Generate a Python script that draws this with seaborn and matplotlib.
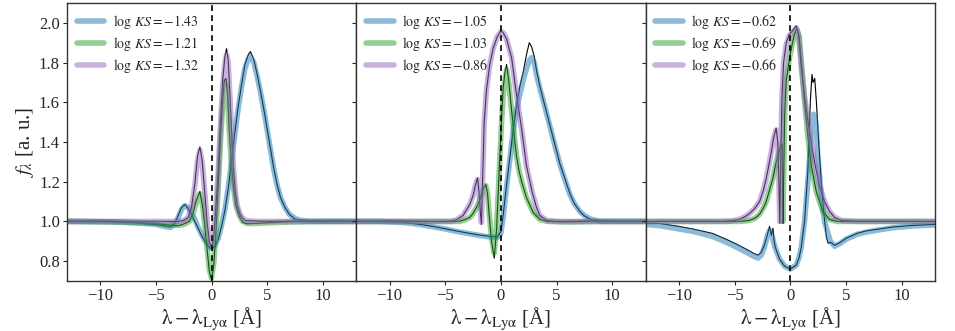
import numpy as np
import pandas as pd
import matplotlib
matplotlib.use("Agg")
import matplotlib.pyplot as plt
import seaborn as sns

# ---- panel 1 ----
x_b1 = [-13, -11, -9, -7, -6, -5, -4.2, -3.7, -3.3, -3.0, -2.7, -2.4, -2.1, -1.8, -1.5, -1.2, -0.9, -0.6, -0.3, 0.0,
        0.3, 0.6, 0.9, 1.2, 1.5, 1.8, 2.1, 2.4, 2.7, 3.0, 3.3, 3.5, 3.8, 4.1, 4.4, 4.7, 5.0, 5.3, 5.6, 5.9,
        6.2, 6.6, 7.0, 7.5, 8.0, 9, 10, 11.5, 13]
mod_b1 = [1.0, 1.0, 0.998, 0.993, 0.99, 0.985, 0.975, 0.97, 0.985, 1.02, 1.06, 1.08, 1.07, 1.04, 1.01, 0.97, 0.935, 0.905, 0.88, 0.866,
          0.88, 0.915, 0.98, 1.06, 1.17, 1.30, 1.44, 1.57, 1.68, 1.77, 1.82, 1.83, 1.80, 1.73, 1.65, 1.56, 1.46, 1.36, 1.26, 1.18,
          1.12, 1.07, 1.035, 1.015, 1.005, 1.0, 1.0, 1.0, 1.0]
obs_b1 = [1.002, 0.998, 1.0, 0.995, 0.988, 0.984, 0.977, 0.972, 0.99, 1.03, 1.07, 1.085, 1.065, 1.035, 1.0, 0.965, 0.93, 0.9, 0.875, 0.862,
          0.875, 0.91, 0.975, 1.055, 1.165, 1.31, 1.45, 1.58, 1.69, 1.79, 1.84, 1.855, 1.815, 1.74, 1.655, 1.565, 1.465, 1.365, 1.265, 1.185,
          1.12, 1.07, 1.035, 1.012, 1.008, 1.002, 0.998, 1.003, 1.0]

x_g1 = [-13, -10, -8, -6, -5, -4, -3, -2.5, -2.0, -1.7, -1.4, -1.05, -0.8, -0.6, -0.4, -0.2, 0.0, 0.2, 0.4, 0.6,
        0.8, 1.0, 1.15, 1.3, 1.45, 1.6, 1.8, 2.0, 2.2, 2.5, 2.8, 3.2, 4.0, 6.0, 8.0, 10.0, 13]
mod_g1 = [1.0, 0.998, 0.997, 0.993, 0.99, 0.985, 0.98, 0.985, 1.0, 1.03, 1.09, 1.14, 1.08, 0.98, 0.87, 0.76, 0.715, 0.79, 0.95, 1.17,
          1.40, 1.58, 1.67, 1.69, 1.62, 1.45, 1.28, 1.16, 1.08, 1.03, 1.0, 0.99, 0.99, 0.995, 0.998, 1.0, 1.0]
obs_g1 = [1.0, 1.0, 0.995, 0.992, 0.99, 0.983, 0.978, 0.987, 1.0, 1.035, 1.1, 1.15, 1.075, 0.975, 0.86, 0.75, 0.705, 0.78, 0.95, 1.18,
          1.42, 1.61, 1.71, 1.72, 1.63, 1.45, 1.28, 1.155, 1.075, 1.025, 0.995, 0.988, 0.99, 0.997, 1.0, 1.002, 1.0]

x_p1 = [-13, -10, -7, -5, -3, -2.5, -2.1, -1.8, -1.5, -1.25, -1.05, -0.85, -0.6, -0.4, -0.2, 0.0, 0.2, 0.4, 0.6, 0.8,
        1.0, 1.2, 1.35, 1.5, 1.7, 1.9, 2.1, 2.3, 2.6, 3.0, 4.0, 6.0, 9.0, 13]
mod_p1 = [1.0, 1.0, 1.0, 1.0, 1.0, 1.005, 1.02, 1.07, 1.18, 1.31, 1.36, 1.30, 1.14, 1.00, 0.91, 0.88, 0.93, 1.08, 1.25, 1.48,
          1.68, 1.80, 1.84, 1.80, 1.58, 1.33, 1.17, 1.08, 1.03, 1.005, 1.0, 1.0, 1.0, 1.0]
obs_p1 = [1.0, 1.003, 0.999, 1.001, 1.0, 1.005, 1.02, 1.07, 1.19, 1.33, 1.375, 1.31, 1.14, 0.995, 0.9, 0.87, 0.92, 1.08, 1.26, 1.5,
          1.71, 1.83, 1.87, 1.81, 1.58, 1.33, 1.17, 1.08, 1.03, 1.005, 1.002, 1.0, 1.003, 1.0]

# ---- panel 2 ----
x_b2 = [-13, -11, -9, -8, -7, -6, -5, -4, -3, -2, -1, -0.3, 0.0, 0.2, 0.5, 0.8, 1.1, 1.4, 1.7, 2.0,
        2.3, 2.55, 2.76, 3.0, 3.2, 3.5, 3.8, 4.1, 4.4, 4.7, 5.0, 5.3, 5.6, 5.9, 6.2, 6.6, 7.1, 7.5, 8.0, 8.9,
        10, 13]
mod_b2 = [1.0, 1.0, 0.995, 0.99, 0.982, 0.972, 0.962, 0.95, 0.94, 0.93, 0.922, 0.92, 0.94, 1.02, 1.17, 1.31, 1.45, 1.56, 1.64, 1.71,
          1.77, 1.81, 1.825, 1.80, 1.74, 1.67, 1.61, 1.545, 1.48, 1.415, 1.35, 1.29, 1.235, 1.185, 1.136, 1.09, 1.05, 1.03, 1.013, 1.0,
          1.0, 1.0]
obs_b2 = [1.002, 0.999, 0.997, 0.99, 0.983, 0.974, 0.963, 0.952, 0.942, 0.932, 0.925, 0.922, 0.95, 1.03, 1.18, 1.32, 1.46, 1.58, 1.68, 1.75,
          1.84, 1.90, 1.88, 1.83, 1.76, 1.68, 1.615, 1.55, 1.485, 1.42, 1.355, 1.29, 1.24, 1.19, 1.14, 1.09, 1.05, 1.028, 1.012, 1.002,
          1.0, 1.001]

x_g2 = [-13, -9, -6, -4.5, -3.7, -3.2, -2.8, -2.5, -2.2, -1.95, -1.75, -1.55, -1.35, -1.2, -1.05, -0.84, -0.6, -0.39, -0.15, 0.06,
        0.2, 0.36, 0.51, 0.7, 0.96, 1.2, 1.4, 1.65, 1.86, 2.3, 2.9, 3.5, 4.2, 6, 9, 13]
mod_g2 = [1.0, 1.0, 1.0, 1.0, 1.0, 1.008, 1.02, 1.04, 1.07, 1.10, 1.135, 1.165, 1.18, 1.14, 1.04, 0.92, 0.84, 0.97, 1.25, 1.50,
          1.63, 1.71, 1.765, 1.70, 1.56, 1.43, 1.33, 1.25, 1.20, 1.12, 1.045, 1.01, 1.0, 0.997, 1.0, 1.0]
obs_g2 = [1.0, 1.002, 0.999, 1.0, 1.001, 1.01, 1.02, 1.04, 1.07, 1.10, 1.135, 1.17, 1.185, 1.14, 1.03, 0.9, 0.815, 0.96, 1.26, 1.52,
          1.67, 1.75, 1.79, 1.71, 1.56, 1.43, 1.33, 1.25, 1.2, 1.12, 1.045, 1.01, 1.0, 0.998, 1.001, 1.0]

x_p2 = [-13, -9, -6, -4.5, -4.0, -3.4, -2.8, -2.5, -2.3, -2.1, -1.95, -1.85, -1.75, -1.65, -1.5, -1.3, -1.0, -0.7, -0.33, 0.0,
        0.2, 0.5, 0.96, 1.4, 1.9, 2.3, 2.8, 3.2, 3.5, 4.1, 5, 8, 13]
mod_p2 = [1.0, 1.0, 1.0, 1.0, 1.008, 1.03, 1.085, 1.13, 1.18, 1.21, 1.14, 1.06, 0.995, 1.2, 1.50, 1.66, 1.79, 1.87, 1.93, 1.955,
          1.95, 1.92, 1.825, 1.64, 1.45, 1.28, 1.15, 1.07, 1.03, 1.005, 1.0, 1.0, 1.0]
obs_p2 = [1.0, 1.002, 1.0, 1.001, 1.008, 1.03, 1.085, 1.13, 1.18, 1.22, 1.14, 1.05, 0.985, 1.2, 1.5, 1.66, 1.79, 1.87, 1.93, 1.96,
          1.95, 1.92, 1.825, 1.64, 1.45, 1.28, 1.15, 1.07, 1.03, 1.005, 1.0, 1.002, 1.0]

# ---- panel 3 ----
x_b3 = [-13, -11.75, -10, -8.75, -7, -5.75, -4.8, -3.95, -3.3, -2.9, -2.6, -2.3, -2.05, -1.86, -1.65, -1.4, -0.96, -0.51, 0.0, 0.54,
        0.8, 0.99, 1.28, 1.58, 1.89, 2.1, 2.3, 2.48, 2.78, 3.08, 3.38, 3.6, 4.0, 4.5, 5.0, 6.0, 6.8, 8.0, 9.2, 11,
        13]
mod_b3 = [0.985, 0.979, 0.962, 0.95, 0.925, 0.895, 0.87, 0.845, 0.825, 0.815, 0.83, 0.875, 0.93, 0.955, 0.93, 0.875, 0.81, 0.775, 0.76, 0.78,
          0.82, 0.87, 1.0, 1.2, 1.45, 1.54, 1.5, 1.33, 1.135, 1.0, 0.94, 0.9, 0.875, 0.89, 0.91, 0.935, 0.946, 0.958, 0.968, 0.977,
          0.982]
x_ob3 = [-13, -11.75, -10, -8.75, -7, -5.75, -4.8, -3.95, -3.3, -2.9, -2.6, -2.3, -2.05, -1.86, -1.7, -1.55, -1.45, -1.35, -0.96, -0.51,
         0.0, 0.54, 0.8, 0.99, 1.28, 1.58, 1.8, 1.95, 2.05, 2.2, 2.35, 2.55, 2.78, 3.0, 3.25, 3.4, 3.6, 4.0, 4.5, 5.0,
         6.0, 6.8, 8.0, 9.2, 11, 13]
obs_b3 = [0.99, 0.99, 0.975, 0.962, 0.94, 0.91, 0.885, 0.86, 0.84, 0.83, 0.845, 0.885, 0.935, 0.975, 0.93, 0.965, 0.9, 0.87, 0.81, 0.775,
          0.76, 0.78, 0.82, 0.87, 1.0, 1.25, 1.6, 1.74, 1.70, 1.72, 1.6, 1.4, 1.2, 1.05, 0.92, 0.89, 0.895, 0.88, 0.895, 0.915,
          0.94, 0.952, 0.962, 0.972, 0.98, 0.985]

x_g3 = [-13, -9, -6, -4.5, -3.7, -3.2, -2.76, -2.4, -2.16, -1.85, -1.56, -1.3, -1.11, -0.9, -0.72, -0.66, -0.6, -0.5, -0.36, -0.06,
        0.2, 0.39, 0.6, 0.8, 0.99, 1.28, 1.58, 1.89, 2.34, 2.93, 3.53, 4.2, 6, 9, 13]
mod_g3 = [1.0, 1.0, 1.0, 1.0, 1.005, 1.015, 1.036, 1.07, 1.10, 1.16, 1.217, 1.29, 1.33, 1.37, 1.39, 1.0, 1.2, 1.55, 1.71, 1.825,
          1.90, 1.94, 1.965, 1.93, 1.81, 1.61, 1.43, 1.28, 1.15, 1.05, 1.01, 1.0, 1.0, 1.0, 1.0]
obs_g3 = [1.0, 1.001, 1.0, 1.0, 1.005, 1.015, 1.036, 1.07, 1.10, 1.16, 1.217, 1.29, 1.33, 1.37, 1.39, 0.99, 1.2, 1.55, 1.71, 1.825,
          1.9, 1.945, 1.97, 1.93, 1.81, 1.61, 1.43, 1.28, 1.15, 1.05, 1.01, 1.0, 1.001, 1.0, 1.0]

x_p3 = [-13, -9, -6, -5.2, -4.5, -3.95, -3.66, -3.2, -2.76, -2.4, -2.16, -1.9, -1.7, -1.5, -1.27, -1.12, -1.02, -0.94, -0.86, -0.75,
        -0.6, -0.36, -0.1, 0.2, 0.54, 0.75, 0.99, 1.28, 1.73, 2.18, 2.63, 3.08, 3.53, 4.0, 4.6, 6, 9, 13]
mod_p3 = [1.0, 1.0, 1.0, 1.003, 1.012, 1.028, 1.04, 1.065, 1.10, 1.16, 1.217, 1.29, 1.35, 1.42, 1.46, 1.40, 1.2, 1.0, 1.3, 1.62,
          1.80, 1.89, 1.935, 1.955, 1.975, 1.94, 1.775, 1.63, 1.45, 1.30, 1.18, 1.10, 1.05, 1.02, 1.005, 1.0, 1.0, 1.0]
obs_p3 = [1.0, 1.001, 1.0, 1.003, 1.012, 1.028, 1.04, 1.065, 1.10, 1.16, 1.217, 1.29, 1.35, 1.42, 1.47, 1.40, 1.2, 0.99, 1.3, 1.62,
          1.80, 1.9, 1.94, 1.96, 1.985, 1.94, 1.775, 1.63, 1.45, 1.30, 1.18, 1.10, 1.05, 1.02, 1.005, 1.0, 1.001, 1.0]

logks = [[-1.43, -1.21, -1.32], [-1.05, -1.03, -0.86], [-0.62, -0.69, -0.66]]
colors = ["#1f77b4", "#2ca02c", "#9467bd"]

panels = [
    [(x_b1, mod_b1, x_b1, obs_b1), (x_g1, mod_g1, x_g1, obs_g1), (x_p1, mod_p1, x_p1, obs_p1)],
    [(x_b2, mod_b2, x_b2, obs_b2), (x_g2, mod_g2, x_g2, obs_g2), (x_p2, mod_p2, x_p2, obs_p2)],
    [(x_b3, mod_b3, x_ob3, obs_b3), (x_g3, mod_g3, x_g3, obs_g3), (x_p3, mod_p3, x_p3, obs_p3)],
]

sns.set_style("ticks")
plt.rcParams["font.family"] = ["Liberation Serif", "DejaVu Serif"]
plt.rcParams["mathtext.fontset"] = "stix"

fig, axes = plt.subplots(1, 3, figsize=(9.55, 3.31), dpi=100, sharey=True)
fig.subplots_adjust(left=0.07, right=0.979, top=0.991, bottom=0.151, wspace=0)

for ax, curves, ks in zip(axes, panels, logks):
    for (xm, ym, xo, yo), c, k in zip(curves, colors, ks):
        sns.lineplot(x=xo, y=yo, ax=ax, color="black", lw=0.8, sort=False, estimator=None, legend=False)
    for (xm, ym, xo, yo), c, k in zip(curves, colors, ks):
        sns.lineplot(x=xm, y=ym, ax=ax, color=c, lw=4, alpha=0.5, sort=False, estimator=None,
                     label=r"$\log\,KS = %.2f$" % k)
    ax.axvline(0, color="black", ls=(0, (3.5, 2.5)), lw=1.2)
    ax.set_xlim(-13, 13)
    ax.set_ylim(0.7, 2.1)
    ax.set_xticks([-10, -5, 0, 5, 10])
    ax.tick_params(labelsize=12, length=3, width=0.8, pad=2)
    ax.set_xlabel(r"$\mathrm{\lambda - \lambda_{Ly\alpha}}$ [Å]", fontsize=15, labelpad=1)
    ax.legend(loc="upper left", frameon=False, fontsize=10, handlelength=2.0, labelspacing=0.3,
              borderaxespad=0.3, handletextpad=0.6)
    for s in ax.spines.values():
        s.set_color("0.2")
        s.set_linewidth(1.0)

axes[0].set_yticks([0.8, 1.0, 1.2, 1.4, 1.6, 1.8, 2.0])
axes[0].set_ylabel(r"$f_\lambda$ [a. u.]", fontsize=15, labelpad=2)

fig.savefig("out.png", dpi=100)
